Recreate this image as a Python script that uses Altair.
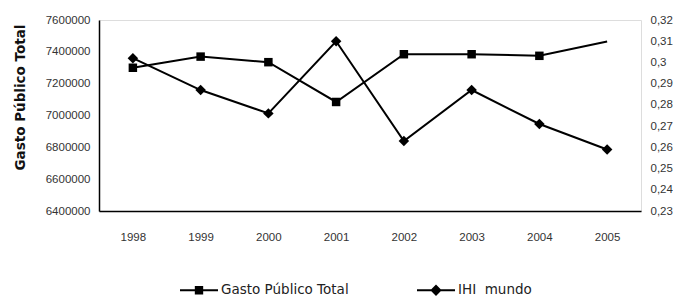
import altair as alt
import pandas as pd

years = ["1998", "1999", "2000", "2001", "2002", "2003", "2004", "2005"]
gasto = [7300000, 7370000, 7335000, 7085000, 7385000, 7385000, 7375000, 7465000]
gasto_marker = [True, True, True, True, True, True, True, False]
ihi = [0.302, 0.287, 0.276, 0.310, 0.263, 0.287, 0.271, 0.259]
series = ["Gasto Público Total", "IHI\u00a0 mundo"]
left_ticks = [6400000, 6600000, 6800000, 7000000, 7200000, 7400000, 7600000]
right_ticks = [0.23, 0.24, 0.25, 0.26, 0.27, 0.28, 0.29, 0.30, 0.31, 0.32]

df = pd.DataFrame({"year": years, "gasto": gasto, "marker": gasto_marker, "ihi": ihi})
df_leg = pd.DataFrame({"s": series})

FONT = "Liberation Sans"
WIDE = "DejaVu Sans"
SQUARE = "M-1,-0.05H1V0.05H-1ZM-0.22,-0.22H0.22V0.22H-0.22Z"
DIAMOND = "M-1,-0.05H1V0.05H-1ZM0,-0.3L0.3,0L0,0.3L-0.3,0Z"

x_enc = alt.X("year:O", scale=alt.Scale(type="point", padding=0.5),
              axis=alt.Axis(title=None, labelAngle=0, ticks=False, labelPadding=20,
                            labelFontSize=11.5, labelFont=FONT, labelColor="#333",
                            domainColor="black", domainWidth=1.5, grid=False))

base = alt.Chart(df).encode(x=x_enc)

y_left = alt.Y("gasto:Q",
               scale=alt.Scale(domain=[6400000, 7600000], nice=False, zero=False),
               axis=alt.Axis(title="Gasto Público Total", values=left_ticks, format="d",
                             ticks=False, labelPadding=9, labelFontSize=11.5, labelFont=FONT,
                             labelColor="#333", domainColor="black", domainWidth=1.5,
                             grid=False, titleFont=WIDE, titleFontSize=13.5, titleFontWeight="bold",
                             titleX=-79, titleY=77, titleAlign="center", titleBaseline="middle",
                             titleAngle=270, titleColor="#111"))

y_right = alt.Y("ihi:Q",
                scale=alt.Scale(domain=[0.23, 0.32], nice=False, zero=False),
                axis=alt.Axis(title=None, orient="right", values=right_ticks,
                              labelExpr="replace(format(datum.value, '.2~f'), '.', ',')",
                              ticks=False, labelPadding=9, labelFontSize=11.5, labelFont=FONT,
                              labelColor="#333", domain=False, grid=False))

gasto_line = base.mark_line(color="black", strokeWidth=2).encode(y=y_left)
gasto_pts = base.mark_point(shape="square", filled=True, size=72, color="black", opacity=1).encode(
    y=y_left).transform_filter("datum.marker")
ihi_line = base.mark_line(color="black", strokeWidth=2).encode(y=y_right)
ihi_pts = base.mark_point(shape="diamond", filled=True, size=110, color="black", opacity=1).encode(y=y_right)

left = alt.layer(gasto_line, gasto_pts)
right = alt.layer(ihi_line, ihi_pts)

legend_layer = alt.Chart(df_leg).mark_point(filled=True, color="black", opacity=1).encode(
    shape=alt.Shape("s:N", scale=alt.Scale(domain=series, range=[SQUARE, DIAMOND]),
                    legend=alt.Legend(title=None, orient="none", direction="horizontal",
                                      legendX=81, legendY=251, symbolSize=1444,
                                      symbolStrokeWidth=0, symbolFillColor="black",
                                      labelFontSize=13.5, labelFont=WIDE,
                                      labelColor="#222", labelOffset=3, columnPadding=68))
).transform_filter("false")

chart = alt.layer(left, right, legend_layer).resolve_scale(y="independent").properties(
    width=542, height=191, autosize="none",
    padding={"left": 91, "top": 12, "right": 32, "bottom": 86},
).configure_view(stroke="#888", strokeWidth=1.5).configure(background="white")

chart.save("out.html", embed_options={"renderer": "svg", "actions": False})
